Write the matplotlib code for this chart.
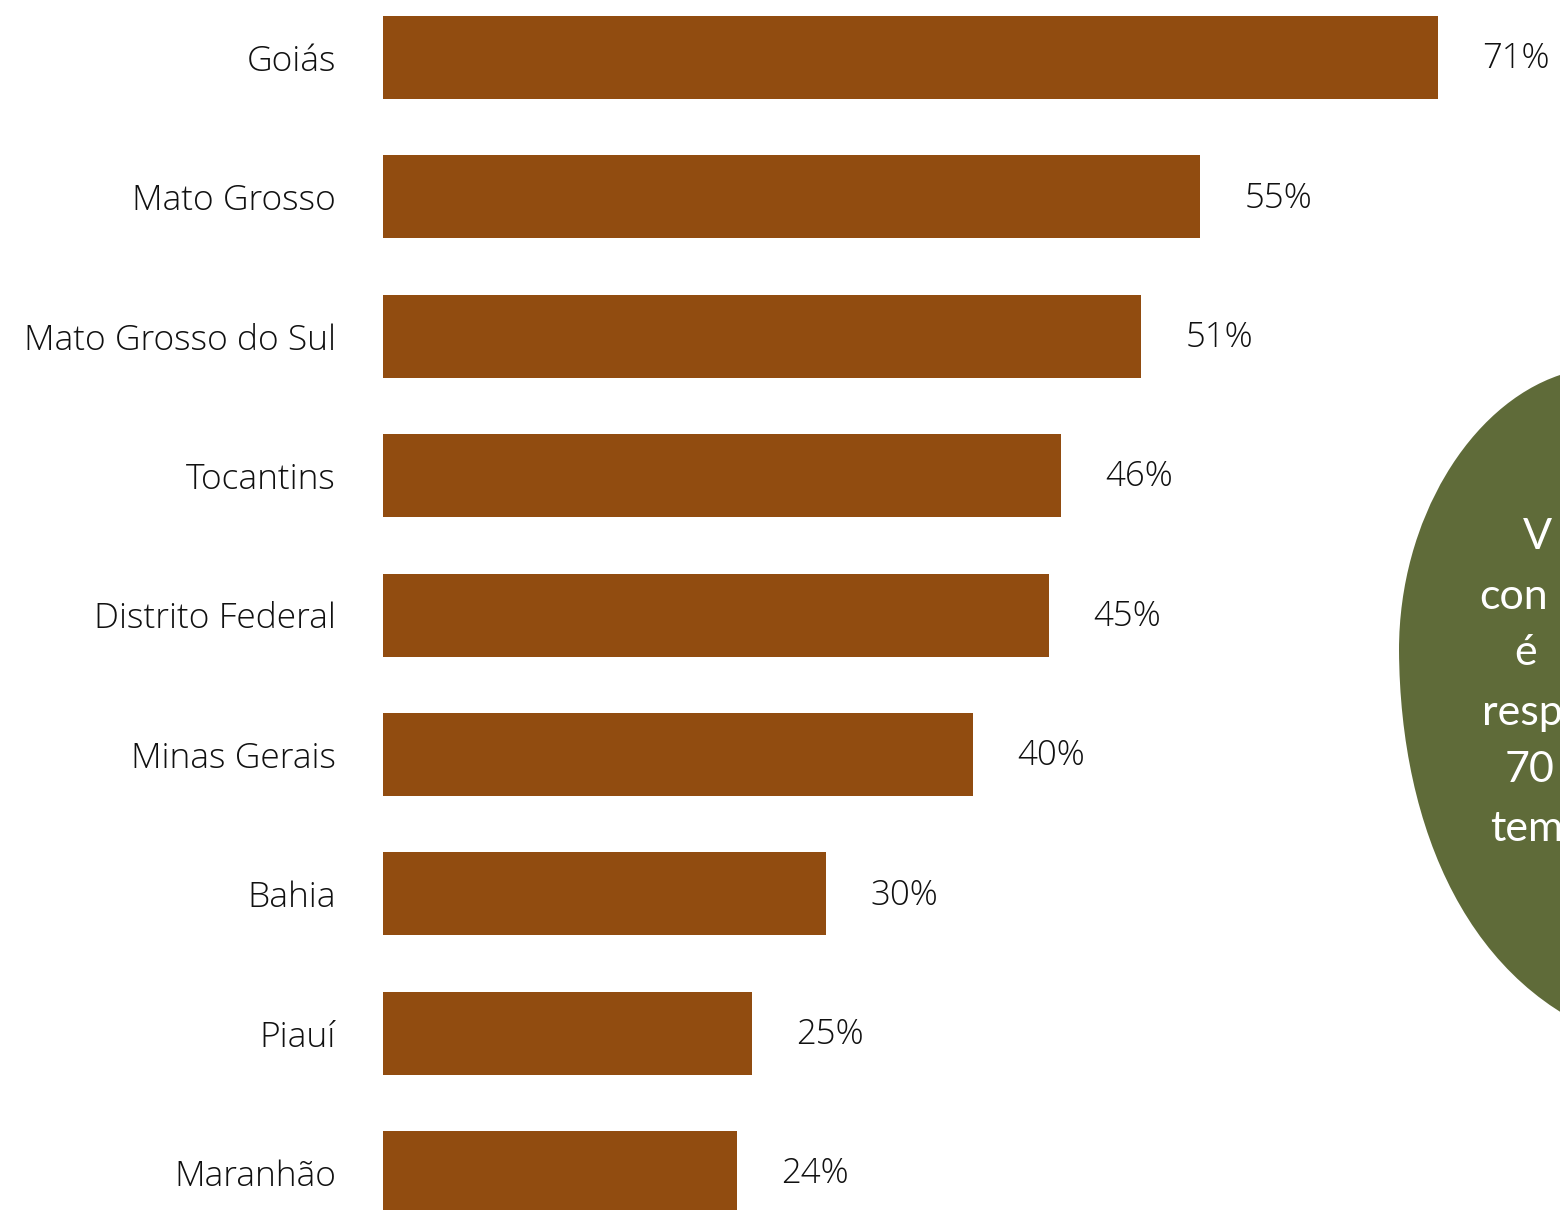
import matplotlib
matplotlib.use("Agg")
import matplotlib.pyplot as plt
from matplotlib.path import Path
from matplotlib.patches import PathPatch

plt.rcParams["font.family"] = ["Open Sans", "DejaVu Sans"]

estados = ["Goiás", "Mato Grosso", "Mato Grosso do Sul", "Tocantins", "Distrito Federal",
           "Minas Gerais", "Bahia", "Piauí", "Maranhão"]
valores = [71.0, 55.0, 51.0, 45.6, 44.8, 39.7, 29.8, 24.8, 23.8]
rotulos = ["71%", "55%", "51%", "46%", "45%", "40%", "30%", "25%", "24%"]
balao_linhas = ["V", "con", "é", "resp", "70", "tem"]

W, H = 1560, 1210
BAR = "#914C10"
GREEN = "#5F6B39"

fig = plt.figure(figsize=(W / 100, H / 100), dpi=100)
fig.patch.set_facecolor("white")

# axes from bar baseline (x=383px) to the right edge, full height
ax = fig.add_axes([383 / W, 0, 1 - 383 / W, 1])
ax.set_xlim(0, 71 * (W - 383) / 1055)
ax.set_ylim((H - 57.5) / 139.4, -57.5 / 139.4)
ypos = list(range(len(estados)))
ax.barh(ypos, valores, height=0.595, color=BAR)
for y, v, t in zip(ypos, valores, rotulos):
    ax.text(v + 3.0, y + 0.01, t, va="center", ha="left", fontsize=25, color="#111111",
            fontweight="light")
ax.set_yticks(ypos)
ax.set_yticklabels(estados, fontsize=25.5, color="#111111", fontweight="light")
ax.tick_params(axis="y", length=0, pad=34)
ax.set_xticks([])
for s in ax.spines.values():
    s.set_visible(False)
ax.patch.set_alpha(0)

# green blob on the right
def p(x, y):
    return (x / W, 1 - y / H)

verts = [p(1640, 372), p(1560, 375), p(1470, 405), p(1399, 520), p(1399, 650),
         p(1400, 830), p(1470, 990), p(1620, 1040), p(1640, 372)]
codes = [Path.MOVETO, Path.LINETO, Path.CURVE4, Path.CURVE4, Path.CURVE4,
         Path.CURVE4, Path.CURVE4, Path.CURVE4, Path.CLOSEPOLY]
fig.add_artist(PathPatch(Path(verts, codes), transform=fig.transFigure,
                         facecolor=GREEN, edgecolor="none", zorder=0))

xs = [1523, 1479, 1514, 1482, 1505, 1490]
ys = [537, 597, 653, 713, 770, 829]
for t, x, y in zip(balao_linhas, xs, ys):
    fig.text(x / W, 1 - y / H, t, ha="left", va="center", fontsize=31,
             color="white", family=["Lato", "DejaVu Sans"])

fig.savefig("out.png", dpi=100)
